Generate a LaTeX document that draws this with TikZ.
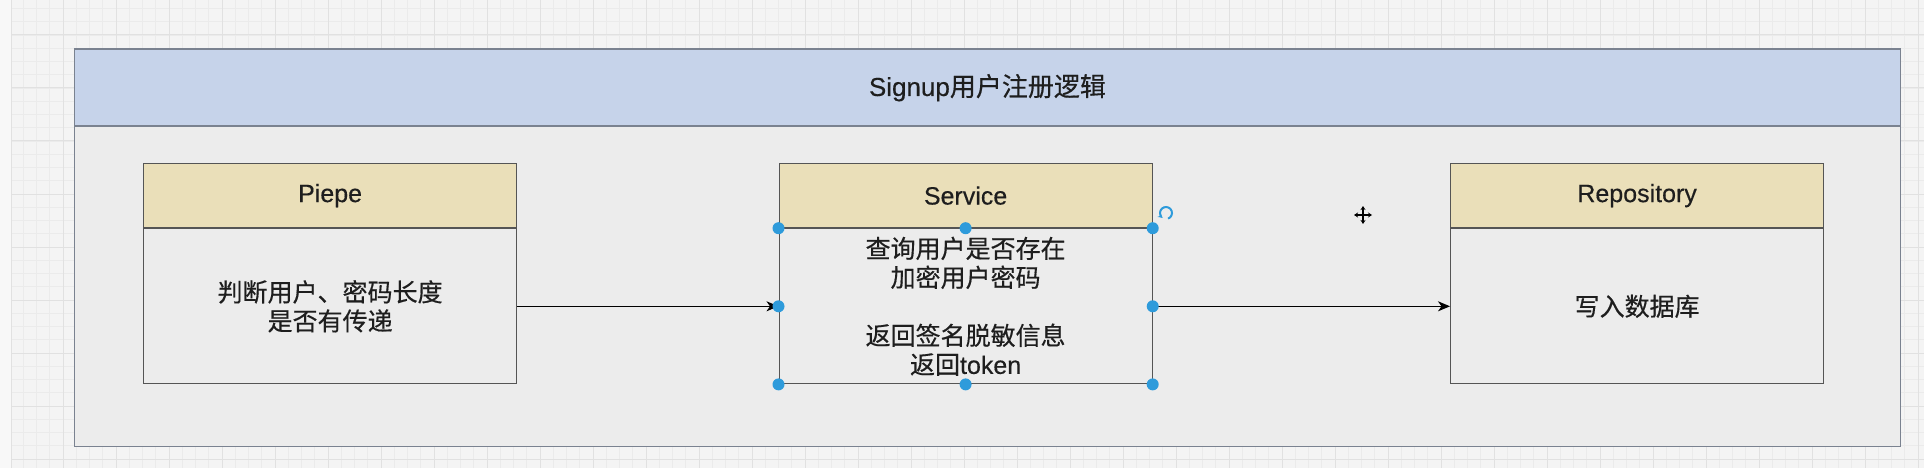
\documentclass[tikz,border=0pt]{standalone}
\usepackage{fontspec}
\setmainfont[FakeBold=0.35]{Liberation Sans}
\newfontfamily\cjk[FakeBold=0.45]{Noto Sans CJK SC}
\newfontfamily\latn[FakeBold=0.35]{Liberation Sans}
\usetikzlibrary{arrows.meta,calc}
\definecolor{bgc}{HTML}{F4F4F4}
\definecolor{stripc}{HTML}{F8F8F8}
\definecolor{minorc}{HTML}{EBEBEB}
\definecolor{majorc}{HTML}{E1E1E1}
\definecolor{contc}{HTML}{ECECEC}
\definecolor{headc}{HTML}{C6D3EA}
\definecolor{yelc}{HTML}{EADFB9}
\definecolor{framec}{HTML}{7A8290}
\definecolor{boxc}{HTML}{555555}
\definecolor{txtc}{HTML}{1E1E1E}
\definecolor{handlec}{HTML}{2E9BDB}
\tikzset{
  headerbox/.style={draw=framec, line width=1.4pt, fill=headc, anchor=north west, inner sep=0pt,
    minimum width=1826pt, minimum height=77pt, text=txtc, font=\fontsize{26}{30}\selectfont},
  framebox/.style={draw=framec, line width=1.4pt, fill=contc, anchor=north west, inner sep=0pt,
    minimum width=1826pt, minimum height=397pt},
  capbox/.style={draw=boxc, line width=1.2pt, fill=yelc, anchor=north west, inner sep=0pt,
    minimum width=373pt, minimum height=64pt, text=txtc, font=\fontsize{25}{29}\selectfont},
  bodybox/.style={draw=boxc, line width=1.2pt, fill=contc, anchor=north, inner sep=0pt,
    minimum width=373pt, minimum height=155pt, text=txtc, align=center,
    font=\cjk\fontsize{25}{29}\selectfont},
  arr/.style={draw=black, line width=1.3pt, -{Stealth[length=12pt,width=10pt,inset=3.5pt]}},
  handle/.style={fill=handlec},
}
\begin{document}
\begin{tikzpicture}[x=1pt,y=-1pt]
\useasboundingbox (0,0) rectangle (1924,468);
\fill[bgc] (0,0) rectangle (1924,468);
\begin{scope}
\clip (12,0) rectangle (1924,468);
\foreach \i in {0,...,145} \draw[minorc, line width=0.8pt] ({10+13.25*\i},0) -- ({10+13.25*\i},468);
\foreach \j in {-2,...,33} \draw[minorc, line width=0.8pt] (0,{35+13.25*\j}) -- (1924,{35+13.25*\j});
\foreach \i in {0,...,36} \draw[majorc, line width=1pt] ({10+53*\i},0) -- ({10+53*\i},468);
\foreach \j in {0,...,8} \draw[majorc, line width=1pt] (0,{35+53*\j}) -- (1924,{35+53*\j});
\end{scope}
\fill[stripc] (0,0) rectangle (11,468);
\draw[majorc, line width=1pt] (11.5,0) -- (11.5,468);

\node (frame) [framebox] at (73.7,48.5) {};
\node (title) [headerbox] at (73.7,48.5) {Signup{\cjk 用户注册逻辑}};

\node (ph) [capbox] at (143,163) {\raisebox{-2pt}{Piepe}};
\node (pb) [bodybox] at (ph.south) {判断用户、密码长度\\是否有传递};

\node (sh) [capbox] at (778.5,163) {\raisebox{-2pt}{Service}};
\node (sb) [bodybox] at (sh.south) {查询用户是否存在\\加密用户密码\\ ~ \\返回签名脱敏信息\\返回{\latn token}};

\node (rh) [capbox] at (1450,163) {\raisebox{-2pt}{Repository}};
\node (rb) [bodybox] at (rh.south) {写入数据库};

\draw[arr] (pb.east) -- (sb.west);
\draw[arr] (sb.east) -- (rb.west);

\foreach \a in {north west,north,north east,west,east,south west,south,south east}
  \fill[handle] (sb.\a) circle (6);

\coordinate (rot) at (1166,213);
\draw[handlec, line width=2pt, -{Stealth[length=4pt,width=5pt]}] ($(rot)+(70:6)$) arc[start angle=70, end angle=-230, radius=6];

\coordinate (mv) at (1363,215);
\draw[black, line width=1.6pt, {Stealth[length=4pt,width=5pt]}-{Stealth[length=4pt,width=5pt]}] ($(mv)+(-9,0)$) -- ($(mv)+(9,0)$);
\draw[black, line width=1.6pt, {Stealth[length=4pt,width=5pt]}-{Stealth[length=4pt,width=5pt]}] ($(mv)+(0,-9)$) -- ($(mv)+(0,9)$);
\end{tikzpicture}
\end{document}
